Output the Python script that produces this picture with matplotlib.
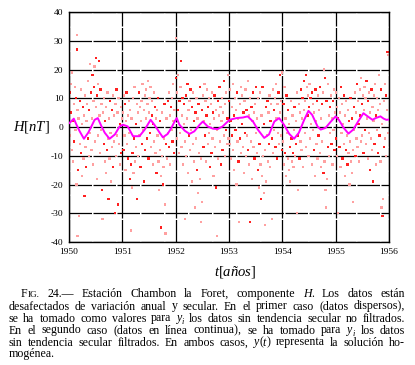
import matplotlib
matplotlib.use('Agg')
import matplotlib.pyplot as plt
from matplotlib.transforms import IdentityTransform
import numpy as np

plt.rcParams['font.family'] = 'Liberation Serif'
plt.rcParams['mathtext.fontset'] = 'custom'
plt.rcParams['mathtext.rm'] = 'Liberation Serif'
plt.rcParams['mathtext.it'] = 'Liberation Serif:italic'
plt.rcParams['axes.unicode_minus'] = False

# filtered series (magenta line)
line_t = [1950.01, 1950.09, 1950.14, 1950.20, 1950.28, 1950.36, 1950.42, 1950.48, 1950.54, 1950.61,
          1950.67, 1950.76, 1950.86, 1950.95, 1951.01, 1951.10, 1951.20, 1951.32, 1951.42, 1951.53,
          1951.60, 1951.70, 1951.76, 1951.85, 1951.92, 1951.98, 1952.02, 1952.07, 1952.17, 1952.26,
          1952.35, 1952.45, 1952.51, 1952.60, 1952.70, 1952.79, 1952.88, 1953.01, 1953.14, 1953.26,
          1953.35, 1953.45, 1953.54, 1953.66, 1953.75, 1953.85, 1953.94, 1954.03, 1954.13, 1954.22,
          1954.31, 1954.41, 1954.49, 1954.56, 1954.66, 1954.72, 1954.81, 1954.91, 1955.00, 1955.06,
          1955.15, 1955.24, 1955.33, 1955.42, 1955.52, 1955.60, 1955.69, 1955.75, 1955.84, 1955.90,
          1955.95, 1956.00]
line_h = [1.4, 2.9, 0.8, -1.5, -4.1, -2.0, 0.2, 2.5, 3.1, 0.2,
          -2.0, -4.1, -2.6, 0.2, 0.8, 0.2, -3.2, -3.2, -0.9, 2.5,
          0.8, -2.0, -3.6, -2.4, -0.3, 1.9, 3.1, 0.8, -1.3, -2.4,
          -1.5, 0.8, 1.9, 0.2, -0.6, -0.7, 0.2, 2.5, 3.1, 3.3,
          3.7, 1.9, -0.9, -3.8, -2.6, 1.9, 3.1, 0.8, -2.4, -4.1,
          -2.0, 2.5, 5.6, 4.2, 0.2, -0.9, -0.3, 1.9, 3.7, 2.5,
          -0.3, -2.3, -0.9, 1.9, 4.8, 3.7, 2.5, 3.1, 3.7, 2.9,
          2.5, 2.6]

# unfiltered data (red dots), (fraction of year, H) estimated per year
pts_1950 = [(0.01, 12), (0.02, -3), (0.03, 15), (0.04, 5), (0.05, -8), (0.06, 19), (0.07, 2), (0.08, -12),
            (0.09, 8), (0.10, -5), (0.11, 14), (0.12, -1), (0.13, 10), (0.14, -20), (0.15, 32), (0.15, 27),
            (0.16, -38), (0.16, 6), (0.17, -15), (0.18, 3), (0.19, -31), (0.20, 9), (0.21, -6), (0.22, 13),
            (0.23, -9), (0.24, 1), (0.25, -17), (0.26, 7), (0.27, -11), (0.28, 4), (0.29, -24), (0.30, 11),
            (0.31, -7), (0.32, -14), (0.33, 2), (0.34, 8), (0.35, -4), (0.36, 16), (0.37, -10), (0.38, 6),
            (0.39, -2), (0.40, 22), (0.41, 12), (0.42, -8), (0.43, 3), (0.44, 18), (0.45, -13), (0.46, 9),
            (0.47, 14), (0.48, 21), (0.49, -5), (0.50, 24), (0.51, 7), (0.52, -18), (0.53, 11), (0.54, -3),
            (0.55, 15), (0.56, 23), (0.57, 4), (0.58, -9), (0.59, 13), (0.60, -1), (0.61, 8), (0.62, -22),
            (0.63, -32), (0.64, 5), (0.65, -6), (0.66, 10), (0.67, -12), (0.68, 2), (0.69, -16), (0.70, 7),
            (0.71, -8), (0.72, 12), (0.73, -4), (0.74, -25), (0.75, 3), (0.76, -11), (0.77, 9), (0.78, -2),
            (0.79, -19), (0.80, 6), (0.81, -7), (0.82, 11), (0.83, -14), (0.84, 4), (0.85, -5), (0.86, -30),
            (0.87, 8), (0.88, -10), (0.89, 13), (0.90, -3), (0.91, 5), (0.92, -27), (0.93, 10), (0.94, -6),
            (0.95, 1), (0.96, -13), (0.97, 7), (0.98, -9), (0.99, 3)]
pts_1951 = [(0.01, 5), (0.02, -8), (0.03, 11), (0.04, -3), (0.05, 8), (0.06, -15), (0.07, 2), (0.08, 12),
            (0.09, -6), (0.10, 4), (0.11, -11), (0.12, 9), (0.13, -2), (0.14, -18), (0.15, 6), (0.16, -36),
            (0.16, -13), (0.17, 3), (0.18, -21), (0.19, -9), (0.20, 10), (0.21, -16), (0.22, -4), (0.23, 14),
            (0.24, -12), (0.25, 1), (0.26, -7), (0.27, 8), (0.28, -25), (0.29, 5), (0.30, -10), (0.31, 12),
            (0.32, -3), (0.33, 7), (0.34, -14), (0.35, 2), (0.36, 9), (0.37, -6), (0.38, 15), (0.39, -1),
            (0.40, -19), (0.41, 6), (0.42, 11), (0.43, -8), (0.44, 3), (0.45, 13), (0.46, -4), (0.47, 8),
            (0.48, 16), (0.49, -11), (0.50, 5), (0.51, 10), (0.52, -2), (0.53, 14), (0.54, -7), (0.55, 4),
            (0.56, 9), (0.57, -13), (0.58, 1), (0.59, 12), (0.60, -5), (0.61, 7), (0.62, -9), (0.63, 3),
            (0.64, -16), (0.65, 6), (0.66, -3), (0.67, 10), (0.68, -12), (0.69, -22), (0.70, 2), (0.71, -8),
            (0.72, -17), (0.73, -35), (0.74, 5), (0.75, -10), (0.76, -20), (0.77, -14), (0.78, -4), (0.79, 8),
            (0.80, -27), (0.81, -37), (0.82, -6), (0.83, 3), (0.84, -11), (0.85, 9), (0.86, -2), (0.87, 12),
            (0.88, -7), (0.89, 4), (0.90, -13), (0.91, 7), (0.92, -1), (0.93, 10), (0.94, -5), (0.95, 15),
            (0.96, 2), (0.97, -9), (0.98, 6)]
pts_1952 = [(0.00, 31), (0.01, 17), (0.02, -4), (0.03, 12), (0.04, 6), (0.05, 18), (0.06, -9), (0.07, 9),
            (0.08, -2), (0.09, 14), (0.10, 23), (0.11, -7), (0.12, 4), (0.13, 10), (0.14, -13), (0.15, 1),
            (0.16, 8), (0.17, -32), (0.18, -5), (0.19, 11), (0.20, -10), (0.21, 3), (0.22, 15), (0.23, -16),
            (0.24, 6), (0.25, -3), (0.26, 9), (0.27, -8), (0.28, 13), (0.29, -1), (0.30, -19), (0.31, 7),
            (0.32, -6), (0.33, 12), (0.34, 2), (0.35, -12), (0.36, -28), (0.37, 5), (0.38, -4), (0.39, 10),
            (0.40, -15), (0.41, 3), (0.42, -23), (0.43, 8), (0.44, -9), (0.45, -18), (0.46, 14), (0.47, -33),
            (0.48, -11), (0.49, 6), (0.50, -26), (0.51, 11), (0.52, -7), (0.53, 2), (0.54, 15), (0.55, -3),
            (0.56, 9), (0.57, -12), (0.58, 4), (0.59, 13), (0.60, -6), (0.61, 7), (0.62, -2), (0.63, 10),
            (0.64, -14), (0.65, 1), (0.66, 8), (0.67, -9), (0.68, 12), (0.69, -4), (0.70, 5), (0.71, -17),
            (0.72, 3), (0.73, 11), (0.74, -7), (0.75, 6), (0.76, -21), (0.77, -1), (0.78, -38), (0.79, 9),
            (0.80, -11), (0.81, 4), (0.82, 14), (0.83, -5), (0.84, 7), (0.85, -13), (0.86, 2), (0.87, 10),
            (0.88, -8), (0.89, 5), (0.90, -3), (0.91, 16), (0.92, -10), (0.93, 8), (0.94, -1), (0.95, 12),
            (0.96, -6), (0.97, 3), (0.98, 18), (0.99, -4)]
pts_1953 = [(0.00, 9), (0.01, -6), (0.02, 13), (0.03, 2), (0.04, -11), (0.05, 7), (0.06, -3), (0.07, 15),
            (0.08, -8), (0.09, 4), (0.10, -15), (0.11, 10), (0.12, -1), (0.13, 6), (0.14, -20), (0.15, 12),
            (0.16, -5), (0.17, 3), (0.18, -12), (0.19, -33), (0.20, 8), (0.21, -4), (0.22, 14), (0.23, -9),
            (0.24, 1), (0.25, 11), (0.26, -7), (0.27, 5), (0.28, -16), (0.29, 9), (0.30, -2), (0.31, 13),
            (0.32, -10), (0.33, 6), (0.34, -3), (0.35, 16), (0.36, -8), (0.37, 4), (0.38, -13), (0.39, -33),
            (0.40, 10), (0.41, -5), (0.42, 7), (0.43, -18), (0.44, 2), (0.45, 12), (0.46, -7), (0.47, 5),
            (0.48, -11), (0.49, 8), (0.50, -2), (0.51, 14), (0.52, -9), (0.53, 3), (0.54, -15), (0.55, 10),
            (0.56, -21), (0.57, -6), (0.58, 12), (0.59, -13), (0.60, -25), (0.61, 4), (0.62, -17), (0.63, 14),
            (0.64, -10), (0.65, -23), (0.66, 1), (0.67, -34), (0.68, -8), (0.69, 7), (0.70, -19), (0.71, -3),
            (0.72, 9), (0.73, -12), (0.74, 5), (0.75, -6), (0.76, 11), (0.77, -14), (0.78, 2), (0.79, 8),
            (0.80, -32), (0.81, -4), (0.82, 13), (0.83, -9), (0.84, 6), (0.85, -1), (0.86, 10), (0.87, -7),
            (0.88, 15), (0.89, 3), (0.90, -11), (0.91, 8), (0.92, -2), (0.93, 12), (0.94, -6), (0.95, 5),
            (0.96, 18), (0.97, -3), (0.98, 9), (0.99, -8)]
pts_1954 = [(0.00, 19), (0.01, -5), (0.02, 8), (0.03, -13), (0.04, 14), (0.05, -9), (0.06, 3), (0.07, -17),
            (0.08, 11), (0.09, -2), (0.10, -11), (0.11, 6), (0.12, -15), (0.13, 1), (0.14, -7), (0.15, -19),
            (0.16, 9), (0.17, -4), (0.18, -12), (0.19, 4), (0.20, -9), (0.21, -14), (0.22, -1), (0.23, 7),
            (0.24, -10), (0.25, 2), (0.26, -6), (0.27, 12), (0.28, -30), (0.29, -3), (0.30, -22), (0.31, 8),
            (0.32, -11), (0.33, 5), (0.34, -5), (0.35, 13), (0.36, -8), (0.37, 3), (0.38, 10), (0.39, -14),
            (0.40, 6), (0.41, 16), (0.42, -2), (0.43, 9), (0.44, 18), (0.45, -7), (0.46, 14), (0.47, 4),
            (0.48, 11), (0.49, -10), (0.50, 7), (0.51, 15), (0.52, -4), (0.53, 10), (0.54, 1), (0.55, -13),
            (0.56, 12), (0.57, -1), (0.58, 8), (0.59, -8), (0.60, 5), (0.61, -17), (0.62, 13), (0.63, 2),
            (0.64, -6), (0.65, 9), (0.66, -11), (0.67, 11), (0.68, -3), (0.69, 6), (0.70, -9), (0.71, 14),
            (0.72, -14), (0.73, 3), (0.74, 8), (0.75, -5), (0.76, 12), (0.77, -16), (0.78, 20), (0.79, -12),
            (0.80, 17), (0.81, -22), (0.82, -28), (0.83, 9), (0.84, -18), (0.85, 15), (0.86, -7), (0.87, 4),
            (0.88, -10), (0.89, 7), (0.90, -2), (0.91, 11), (0.92, -6), (0.93, 3), (0.94, -13), (0.95, 9),
            (0.96, -1), (0.97, 13), (0.98, -8), (0.99, 5)]
pts_1955 = [(0.00, 12), (0.01, -4), (0.02, 7), (0.03, -10), (0.04, 3), (0.05, -30), (0.06, 10), (0.07, -7),
            (0.08, 5), (0.09, -14), (0.10, 14), (0.11, -2), (0.12, 8), (0.13, -11), (0.14, 1), (0.15, -6),
            (0.16, 11), (0.17, -17), (0.18, 4), (0.19, -8), (0.20, 9), (0.21, -3), (0.22, -13), (0.23, 6),
            (0.24, -9), (0.25, 2), (0.26, -20), (0.27, -5), (0.28, 10), (0.29, -12), (0.30, -16), (0.31, 3),
            (0.32, -26), (0.33, -8), (0.34, 7), (0.35, -1), (0.36, 12), (0.37, -10), (0.38, 5), (0.39, -4),
            (0.40, 15), (0.41, -7), (0.42, 9), (0.43, 1), (0.44, -12), (0.45, 13), (0.46, 4), (0.47, -5),
            (0.48, 17), (0.49, 8), (0.50, -3), (0.51, 11), (0.52, -9), (0.53, 6), (0.54, 14), (0.55, -1),
            (0.56, 10), (0.57, -6), (0.58, 16), (0.59, 3), (0.60, -11), (0.61, 9), (0.62, -2), (0.63, 12),
            (0.64, -15), (0.65, 5), (0.66, -4), (0.67, 13), (0.68, -8), (0.69, 7), (0.70, -19), (0.71, 2),
            (0.72, 11), (0.73, -6), (0.74, 15), (0.75, -13), (0.76, 4), (0.77, -1), (0.78, 10), (0.79, -9),
            (0.80, 6), (0.81, 18), (0.82, -3), (0.83, 8), (0.84, -12), (0.85, 13), (0.86, -28), (0.87, 1),
            (0.88, -31), (0.89, -25), (0.90, 9), (0.91, -7), (0.92, 15), (0.93, -4), (0.94, 11), (0.95, -10),
            (0.96, 6), (0.97, 26), (0.98, 25), (0.99, -2)]

years = [1950, 1951, 1952, 1953, 1954, 1955]
yticks = [-40, -30, -20, -10, 0, 10, 20, 30, 40]
xticks = [1950, 1951, 1952, 1953, 1954, 1955, 1956]

# caption words; special words are lists of pieces (text, scale, style, baseline shift in em)
FIG = [('F', 1.0, 'normal', 0), ('IG.', 0.78, 'normal', 0)]
H_DOT = [('H', 1.0, 'italic', 0), ('.', 1.0, 'normal', 0)]
Y_I = [('y', 1.0, 'italic', 0), ('i', 0.7, 'italic', -0.2)]
Y_T = [('y', 1.0, 'italic', 0), ('(', 1.0, 'normal', 0), ('t', 1.0, 'italic', 0), (')', 1.0, 'normal', 0)]
caption = [
    [FIG, '24.—', 'Estación', 'Chambon', 'la', 'Foret,', 'componente', H_DOT, 'Los', 'datos', 'están'],
    'desafectados de variación anual y secular. En el primer caso (datos dispersos),'.split(),
    'se ha tomado como valores para'.split() + [Y_I] + 'los datos sin tendencia secular no filtrados.'.split(),
    'En el segundo caso (datos en línea continua), se ha tomado para'.split() + [Y_I] + ['los', 'datos'],
    'sin tendencia secular filtrados. En ambos casos,'.split() + [Y_T] + 'representa la solución ho-'.split(),
    ['mogénea.'],
]

W, H = 415, 365
fig = plt.figure(figsize=(W / 100, H / 100), dpi=100)
ax = fig.add_axes([69 / W, 1 - 242 / H, 320 / W, 230 / H])

st, sh = [], []
for yr, pts in zip(years, [pts_1950, pts_1951, pts_1952, pts_1953, pts_1954, pts_1955]):
    for f, v in pts:
        st.append(yr + f)
        sh.append(v)
st = np.array(st)
sh = np.array(sh)
cols = ['#ff2020' if i % 3 == 0 else '#ffa0a0' for i in range(len(st))]
ax.scatter(st, sh, s=2.8, marker='s', c=cols, linewidths=0, zorder=2)

ax.plot(line_t, line_h, color='#ff00ff', lw=1.4, zorder=3)

ax.set_xlim(1950, 1956)
ax.set_ylim(-40, 40)
ax.set_xticks(xticks)
ax.set_yticks(yticks)
ax.tick_params(length=0, labelsize=6.8, pad=4)
ax.grid(True, color='black', lw=0.9, linestyle=(0, (18, 1.2)), zorder=1)
ax.set_axisbelow(True)
for s in ax.spines.values():
    s.set_linewidth(1.0)

fig.text(50 / W, 1 - 127 / H, r'$H[nT]$', fontsize=10.5, ha='right', va='center')
fig.text(235 / W, 1 - 272 / H, r'$t[\mathit{años}]$', fontsize=10.5, ha='center', va='center')

# justified caption, placed word by word in pixel coordinates
renderer = fig.canvas.get_renderer()
tr = IdentityTransform()


def pieces_of(w):
    return w if isinstance(w, list) else [(w, 1.0, 'normal', 0)]


def piece_width(p, size):
    s, k, style, dy = p
    t = fig.text(0, 0, s, fontsize=size * k, fontstyle=style, transform=tr)
    w = t.get_window_extent(renderer).width
    t.remove()
    return w


def word_width(w, size):
    return sum(piece_width(p, size) for p in pieces_of(w))


X1 = 405
starts = [21] + [8.5] * 5
# largest size where every justified line keeps at least 2.6 px between words
size = 8.6
while size > 6:
    ok = True
    for i, words in enumerate(caption[:-1]):
        tot = sum(word_width(w, size) for w in words)
        if (X1 - starts[i] - tot) / (len(words) - 1) < 2.6:
            ok = False
            break
    if ok:
        break
    size -= 0.1

px = size * 100 / 72
baselines = [297, 309.5, 321.5, 333.5, 345.5, 357]
for i, words in enumerate(caption):
    widths = [word_width(w, size) for w in words]
    if i < len(caption) - 1:
        gap = (X1 - starts[i] - sum(widths)) / (len(words) - 1)
    else:
        gap = 3
    x = starts[i]
    yb = H - baselines[i]
    for w, wd in zip(words, widths):
        xx = x
        for p in pieces_of(w):
            s, k, style, dy = p
            fig.text(xx, yb + dy * px, s, fontsize=size * k, fontstyle=style, transform=tr,
                     va='baseline', ha='left')
            xx += piece_width(p, size)
        x += wd + gap

fig.savefig('out.png', dpi=100)
